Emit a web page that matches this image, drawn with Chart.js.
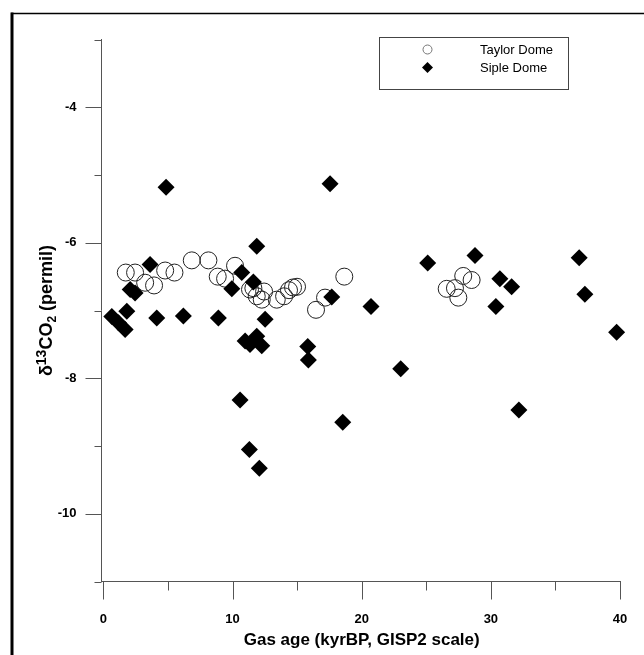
<!DOCTYPE html>
<html>
<head>
<meta charset="utf-8">
<script src="https://cdn.jsdelivr.net/npm/chart.js@4/dist/chart.umd.min.js"></script>
<style>
  html, body { margin: 0; padding: 0; background: #fff; }
  #wrap { width: 644px; height: 655px; position: relative; }
</style>
</head>
<body>
<div id="wrap"><canvas id="c" width="644" height="655"></canvas></div>
<script>
// Gas age (kyr BP, GISP2 scale) and δ13CO2 (permil) for each core
const taylorAge  = [1.73, 2.45, 3.23, 3.92, 4.78, 5.50, 6.84, 8.13, 8.85, 9.42, 10.19,
                    11.35, 11.61, 11.87, 12.26, 12.44, 13.42, 13.99, 14.37, 14.68, 14.99,
                    16.46, 17.16, 18.65, 26.58, 27.22, 27.48, 27.86, 28.51];
const taylorD13C = [-6.44, -6.44, -6.59, -6.63, -6.41, -6.44, -6.26, -6.26, -6.50, -6.53, -6.34,
                    -6.69, -6.67, -6.79, -6.84, -6.72, -6.84, -6.79, -6.70, -6.66, -6.65,
                    -6.99, -6.81, -6.50, -6.68, -6.67, -6.81, -6.49, -6.55];

const sipleAge  = [0.65, 1.16, 1.68, 1.81, 2.07, 2.45, 3.61, 4.13, 4.85, 6.19, 8.90, 9.94, 10.71,
                   10.58, 10.97, 11.35, 11.30, 11.61, 11.87, 11.87, 12.07, 12.26, 12.52, 15.82,
                   15.87, 17.55, 17.68, 18.53, 20.72, 23.02, 25.11, 28.77, 30.39, 30.70, 31.61,
                   32.17, 36.84, 37.28, 39.74];
const sipleD13C = [-7.09, -7.18, -7.28, -7.01, -6.69, -6.74, -6.32, -7.11, -5.18, -7.08, -7.11, -6.68, -6.44,
                   -8.32, -7.45, -7.50, -9.05, -6.58, -6.05, -7.38, -9.33, -7.52, -7.13, -7.53,
                   -7.73, -5.13, -6.80, -8.65, -6.94, -7.86, -6.30, -6.19, -6.94, -6.53, -6.65,
                   -8.47, -6.22, -6.76, -7.32];

const seriesNames = ['Taylor Dome', 'Siple Dome'];

// Axis ticks: labelled (major) and unlabelled (minor)
const xMajorTicks = [0, 10, 20, 30, 40];
const xMinorTicks = [5, 15, 25, 35];
const yMajorTicks = [-4, -6, -8, -10];
const yMinorTicks = [-3, -5, -7, -9, -11];

const xTitle = 'Gas age (kyrBP, GISP2 scale)';
// y title pieces: [text, kind] where kind is normal / sup / sub
const yTitleParts = [['δ', 'normal'], ['13', 'sup'], ['CO', 'normal'], ['2', 'sub'], [' (permil)', 'normal']];

const FONT = "'Liberation Sans', Arial, Helvetica, sans-serif";
const AXIS_COLOR = '#555';

const toPoints = (xs, ys) => xs.map((x, i) => ({ x: x, y: ys[i] }));

// Page frame, tick marks, axis titles and the boxed legend
const decorations = {
  id: 'decorations',
  beforeDraw(chart) {
    const ctx = chart.ctx;
    ctx.save();
    ctx.fillStyle = '#fff';
    ctx.fillRect(0, 0, chart.width, chart.height);
    ctx.restore();
  },
  afterDraw(chart) {
    const ctx = chart.ctx;
    const xs = chart.scales.x, ys = chart.scales.y;
    const axisY = ys.bottom, axisX = xs.left;
    ctx.save();

    // tick marks
    ctx.strokeStyle = AXIS_COLOR;
    ctx.lineWidth = 1;
    ctx.beginPath();
    xMajorTicks.forEach(v => { const p = Math.round(xs.getPixelForValue(v)) + 0.5; ctx.moveTo(p, axisY); ctx.lineTo(p, axisY + 18); });
    xMinorTicks.forEach(v => { const p = Math.round(xs.getPixelForValue(v)) + 0.5; ctx.moveTo(p, axisY); ctx.lineTo(p, axisY + 9); });
    yMajorTicks.forEach(v => { const p = Math.round(ys.getPixelForValue(v)) + 0.5; ctx.moveTo(axisX, p); ctx.lineTo(axisX - 16, p); });
    yMinorTicks.forEach(v => { const p = Math.round(ys.getPixelForValue(v)) + 0.5; ctx.moveTo(axisX, p); ctx.lineTo(axisX - 7, p); });
    ctx.stroke();

    // x axis title
    ctx.fillStyle = '#000';
    ctx.font = 'bold 17px ' + FONT;
    ctx.textAlign = 'center';
    ctx.textBaseline = 'middle';
    ctx.fillText(xTitle, (xs.getPixelForValue(0) + xs.getPixelForValue(40)) / 2, 640);

    // y axis title, rotated, with super/subscripts
    const sizes = { normal: 18, sup: 14, sub: 12 };
    const fontFor = k => 'bold ' + sizes[k] + 'px ' + FONT;
    let total = 0;
    yTitleParts.forEach(([t, k]) => { ctx.font = fontFor(k); total += ctx.measureText(t).width; });
    ctx.translate(46, (ys.top + ys.bottom) / 2);
    ctx.rotate(-Math.PI / 2);
    ctx.textAlign = 'left';
    ctx.textBaseline = 'alphabetic';
    let cx = -total / 2;
    yTitleParts.forEach(([t, k]) => {
      ctx.font = fontFor(k);
      const dy = k === 'sup' ? -6 : (k === 'sub' ? 4 : 0);
      ctx.fillText(t, cx, 6 + dy);
      cx += ctx.measureText(t).width;
    });
    ctx.setTransform(1, 0, 0, 1, 0, 0);

    // legend box
    ctx.strokeStyle = '#444';
    ctx.lineWidth = 1;
    ctx.strokeRect(379.5, 37.5, 189, 52);
    const ds = chart.data.datasets;
    const rows = [49.5, 67.5];
    const symbolRadius = [4.5, 5.5];
    ctx.font = '13px ' + FONT;
    ctx.textAlign = 'left';
    ctx.textBaseline = 'middle';
    ds.forEach(d => {
      const idx = seriesNames.indexOf(d.label);
      const y = rows[idx];
      ctx.fillStyle = d.backgroundColor;
      ctx.strokeStyle = idx === 0 ? '#777' : d.borderColor;
      ctx.lineWidth = d.borderWidth;
      Chart.helpers.drawPoint(ctx, {
        pointStyle: d.pointStyle, radius: symbolRadius[idx], rotation: 0,
        borderWidth: d.borderWidth
      }, 427.5, y);
      ctx.fillStyle = '#000';
      ctx.fillText(d.label, 480, y + 0.5);
    });

    // page frame: top rule and heavy left rule
    ctx.strokeStyle = '#000';
    ctx.lineWidth = 1.5;
    ctx.beginPath();
    ctx.moveTo(11, 13.5); ctx.lineTo(644, 13.5);
    ctx.stroke();
    ctx.lineWidth = 3;
    ctx.beginPath();
    ctx.moveTo(12, 12.5); ctx.lineTo(12, 655);
    ctx.stroke();
    ctx.restore();
  }
};

new Chart(document.getElementById('c'), {
  type: 'scatter',
  data: {
    datasets: [
      {
        label: seriesNames[0],
        data: toPoints(taylorAge, taylorD13C),
        pointStyle: 'circle',
        pointRadius: 8.5,
        borderWidth: 1,
        borderColor: '#222',
        backgroundColor: 'rgba(0,0,0,0)',
        clip: false,
        order: 1
      },
      {
        label: seriesNames[1],
        data: toPoints(sipleAge, sipleD13C),
        pointStyle: 'rectRot',
        pointRadius: 8.5,
        borderWidth: 0,
        borderColor: '#000',
        backgroundColor: '#000',
        clip: false,
        order: 0
      }
    ]
  },
  options: {
    responsive: false,
    animation: false,
    devicePixelRatio: 1,
    events: [],
    layout: { padding: { left: 0, top: 39.5, right: 24, bottom: 0 } },
    plugins: { legend: { display: false }, tooltip: { enabled: false }, title: { display: false } },
    scales: {
      x: {
        type: 'linear',
        position: 'bottom',
        min: -0.15,
        max: 40,
        grid: { display: false, drawTicks: false },
        border: { display: true, color: AXIS_COLOR, width: 1 },
        ticks: {
          color: '#000',
          font: { family: FONT, size: 13, weight: 'bold' },
          padding: 30,
          maxRotation: 0,
          autoSkip: false,
          callback: v => String(v)
        },
        afterBuildTicks: s => { s.ticks = xMajorTicks.map(v => ({ value: v })); },
        afterFit: s => { s.height = 655 - 581.5; s.paddingLeft = 0; s.paddingRight = 0; }
      },
      y: {
        type: 'linear',
        position: 'left',
        min: -11,
        max: -3,
        grid: { display: false, drawTicks: false },
        border: { display: true, color: AXIS_COLOR, width: 1 },
        ticks: {
          color: '#000',
          font: { family: FONT, size: 13, weight: 'bold' },
          padding: 25,
          autoSkip: false,
          callback: v => String(v)
        },
        afterBuildTicks: s => { s.ticks = yMajorTicks.map(v => ({ value: v })); },
        afterFit: s => { s.width = 101.5; s.paddingTop = 0; s.paddingBottom = 0; }
      }
    }
  },
  plugins: [decorations]
});
</script>
</body>
</html>
